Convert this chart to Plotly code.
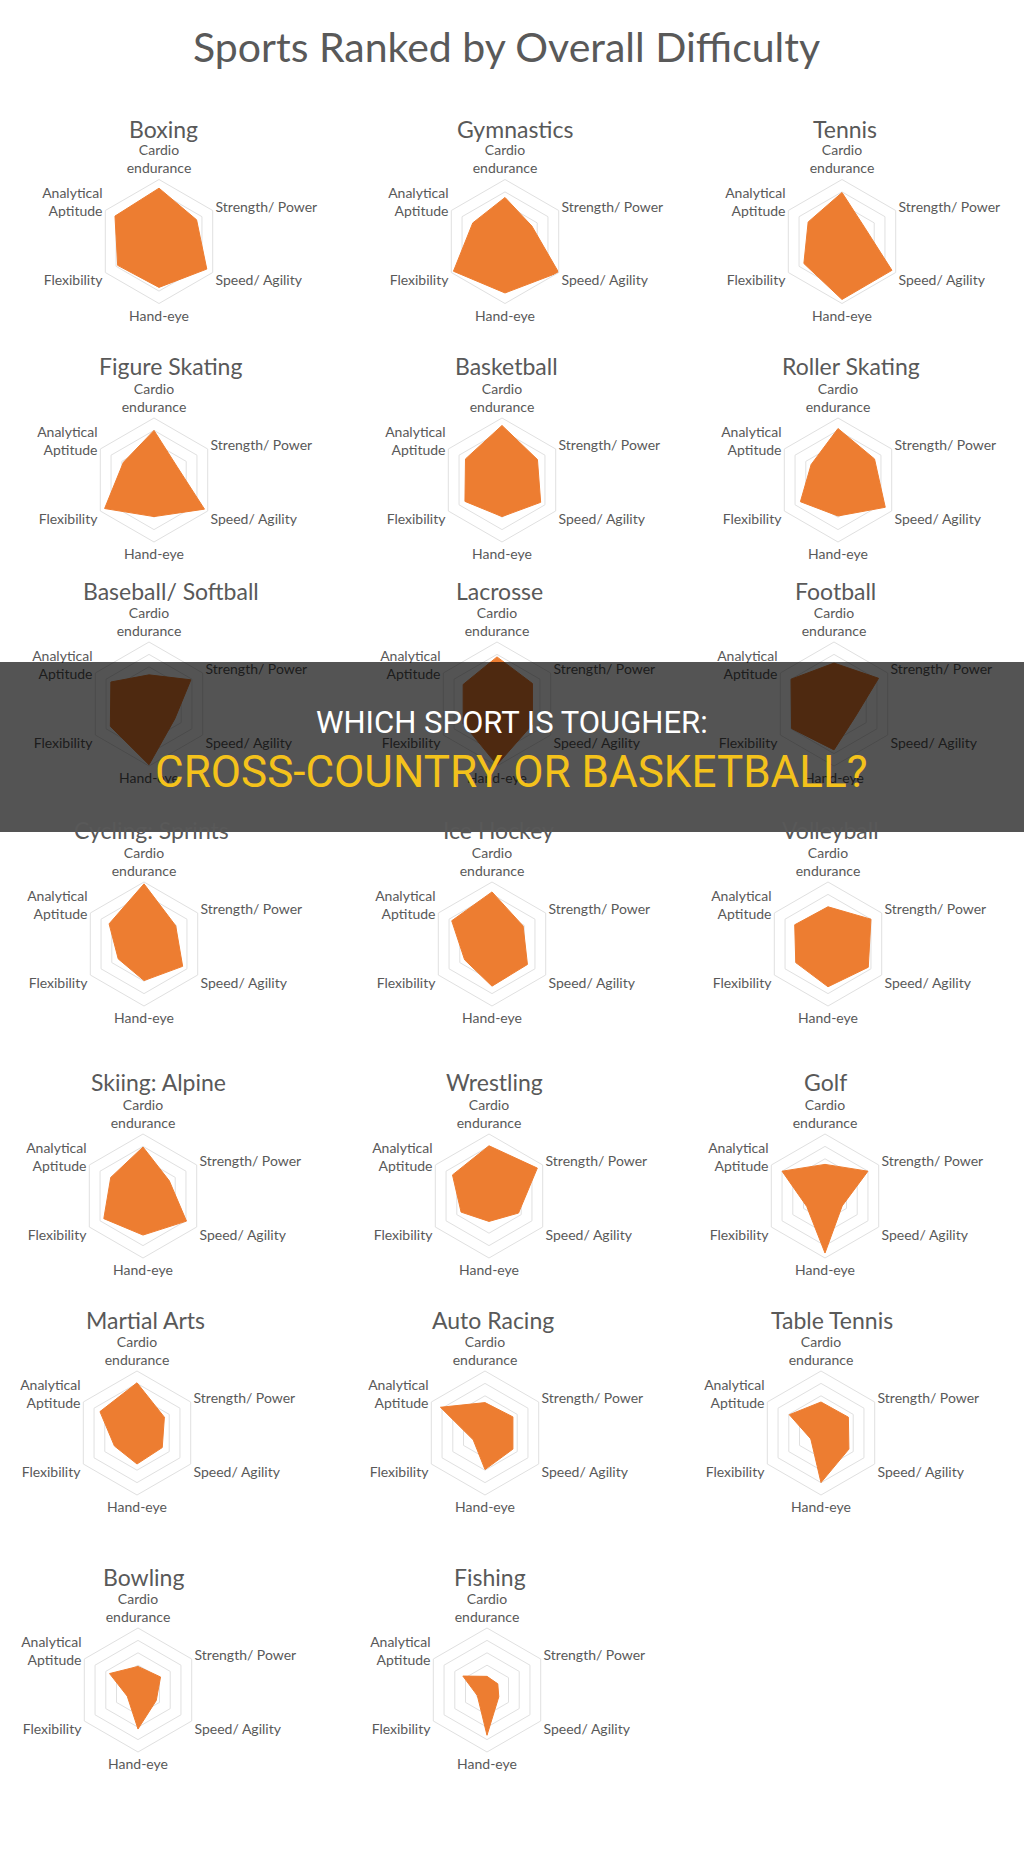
import plotly.graph_objects as go

W, H = 1024, 1854

axes = ["Cardio<br>endurance", "Strength/ Power", "Speed/ Agility",
        "Hand-eye", "Flexibility", "Analytical<br>Aptitude"]

sports = ["Boxing", "Gymnastics", "Tennis",
          "Figure Skating", "Basketball", "Roller Skating",
          "Baseball/ Softball", "Lacrosse", "Football",
          "Cycling: Sprints", "Ice Hockey", "Volleyball",
          "Skiing: Alpine", "Wrestling", "Golf",
          "Martial Arts", "Auto Racing", "Table Tennis",
          "Bowling", "Fishing"]

# scores (0-10)
cardio      = [8.6, 7.1, 7.9, 8.0, 8.8, 8.3, 4.7, 7.6, 6.6, 9.7, 8.4, 6.0, 7.9, 8.1, 5.1, 8.1, 4.9, 5.0, 3.8, 2.2]
strength    = [7.0, 5.0, 4.3, 4.3, 6.6, 6.8, 7.8, 6.6, 8.3, 5.9, 5.8, 8.0, 4.9, 9.0, 8.0, 5.1, 5.2, 5.1, 4.2, 2.0]
speed       = [8.9, 10.0, 9.3, 9.4, 7.2, 8.8, 4.8, 6.6, 4.0, 7.2, 6.6, 7.5, 8.1, 5.5, 3.2, 4.7, 5.2, 5.2, 3.4, 2.2]
hand_eye    = [7.4, 8.3, 9.35, 5.9, 5.9, 5.8, 9.8, 9.8, 7.4, 5.9, 6.8, 6.9, 6.3, 4.1, 9.2, 5.0, 5.9, 8.0, 6.3, 7.3]
flexibility = [7.7, 9.6, 7.1, 9.2, 6.9, 7.0, 7.2, 6.3, 7.9, 4.8, 5.1, 6.0, 7.3, 5.2, 3.4, 4.2, 2.2, 1.9, 2.0, 1.8]
analytical  = [8.2, 6.0, 6.3, 5.7, 6.8, 5.0, 7.1, 6.3, 8.0, 6.5, 7.5, 6.2, 6.0, 6.8, 8.0, 6.9, 8.3, 5.9, 5.3, 4.5]

# layout (pixels in the 1024 x 1854 page)
center_x = [159, 505, 842, 154, 502, 838, 149, 497, 834, 144, 492, 828,
            143, 489, 825, 137, 485, 821, 138, 487]
row_cy = [241.5, 480, 704, 944, 1196, 1433, 1690]
row_ty = [129, 366, 591, 830, 1082, 1320, 1577]
title_x = [163, 515, 845, 170, 506, 851, 171, 499, 835, 151, 498, 830,
           158, 494, 825, 145, 493, 832, 143, 490]
R = 62

ORANGE = "#ED7D31"
GRID = "#E0E0E0"
TXT = "#595959"
FONT = "Lato, Carlito, Open Sans, sans-serif"

fig = go.Figure()
annotations = []
for i, name in enumerate(sports):
    vals = [cardio[i], strength[i], speed[i], hand_eye[i], flexibility[i], analytical[i]]
    pid = "polar" if i == 0 else f"polar{i + 1}"
    fig.add_trace(go.Scatterpolar(
        r=vals + vals[:1], theta=axes + axes[:1], mode="lines",
        fill="toself", fillcolor=ORANGE, line=dict(color=ORANGE, width=1),
        subplot=pid, showlegend=False, hoverinfo="skip"))
    row = i // 3
    cx, cy = center_x[i], row_cy[row]
    fig.update_layout({pid: dict(
        domain=dict(x=[(cx - R) / W, (cx + R) / W],
                    y=[1 - (cy + R) / H, 1 - (cy - R) / H]),
        gridshape="linear", bgcolor="rgba(0,0,0,0)",
        angularaxis=dict(type="category", categoryarray=axes, rotation=90,
                         direction="clockwise", showgrid=False, showline=True,
                         linecolor=GRID, linewidth=1, ticks="",
                         tickfont=dict(family=FONT, size=14, color=TXT)),
        radialaxis=dict(range=[0, 10], dtick=2, showticklabels=False, ticks="",
                        showline=False, gridcolor=GRID, gridwidth=1,
                        layer="below traces"))})
    annotations.append(dict(text=name, x=title_x[i] / W, y=1 - row_ty[row] / H,
                            xref="paper", yref="paper", showarrow=False,
                            xanchor="center", yanchor="middle",
                            font=dict(family=FONT, size=23, color=TXT)))

annotations.append(dict(text="Sports Ranked by Overall Difficulty", x=506 / W, y=1 - 46 / H,
                        xref="paper", yref="paper", showarrow=False,
                        xanchor="center", yanchor="middle",
                        font=dict(family=FONT, size=41, color=TXT)))

# overlay banner
annotations.append(dict(text="WHICH SPORT IS TOUGHER:", x=512 / W, y=1 - 722 / H,
                        xref="paper", yref="paper", showarrow=False,
                        xanchor="center", yanchor="middle",
                        font=dict(family="Liberation Sans Narrow, Roboto, sans-serif", size=31, color="white")))
annotations.append(dict(text="CROSS-COUNTRY OR BASKETBALL?", x=511 / W, y=1 - 772 / H,
                        xref="paper", yref="paper", showarrow=False,
                        xanchor="center", yanchor="middle",
                        font=dict(family="Liberation Sans Narrow, Roboto, sans-serif", size=44, color="#F4C21B")))

fig.update_layout(
    width=W, height=H, margin=dict(l=0, r=0, t=0, b=0),
    paper_bgcolor="white", plot_bgcolor="white",
    annotations=annotations,
    shapes=[dict(type="rect", xref="paper", yref="paper", x0=0, x1=1,
                 y0=1 - 832 / H, y1=1 - 662 / H, fillcolor="rgba(0,0,0,0.67)",
                 line=dict(width=0), layer="above")],
)

fig.write_html("out.html")
